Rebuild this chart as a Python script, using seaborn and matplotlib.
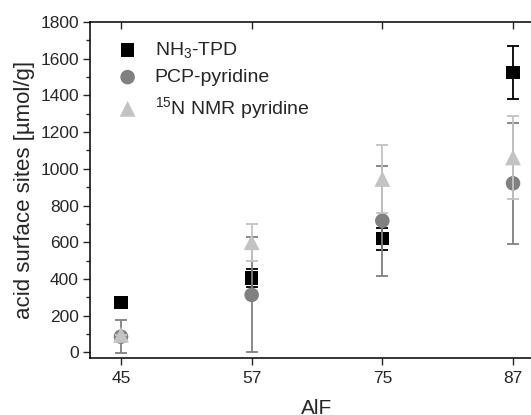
import numpy as np
import pandas as pd
import matplotlib
matplotlib.use("Agg")
import matplotlib.pyplot as plt
from matplotlib.ticker import MultipleLocator
import seaborn as sns

# AlF samples on the x axis (categorical)
alf = ["45", "57", "75", "87"]

# acid surface sites [umol/g] and error bars
nh3_tpd = [271, 405, 620, 1525]
nh3_tpd_err = [0, 48, 60, 146]

pcp_pyridine = [85, 313, 717, 921]
pcp_pyridine_err = [90, 313, 300, 330]

nmr_pyridine = [95, 600, 945, 1062]
nmr_pyridine_err = [0, 100, 185, 225]

labels = ["NH$_3$-TPD", "PCP-pyridine", "$^{15}$N NMR pyridine"]
colors = ["#000000", "#808080", "#c3c3c3"]
markers = ["s", "o", "^"]
sizes = [95, 110, 130]

sns.set_style("ticks")
plt.rcParams["font.family"] = ["Liberation Sans", "DejaVu Sans"]
plt.rcParams["mathtext.default"] = "regular"

fig = plt.figure(figsize=(5.31, 4.15), dpi=100)
ax = fig.add_axes([90 / 531, 1 - 358 / 415, (544 - 90) / 531, (358 - 22) / 415])

series = [nh3_tpd, pcp_pyridine, nmr_pyridine]
errors = [nh3_tpd_err, pcp_pyridine_err, nmr_pyridine_err]

for i, (vals, errs) in enumerate(zip(series, errors)):
    df = pd.DataFrame({"AlF": alf, "sites": vals})
    ax.errorbar(df["AlF"], df["sites"], yerr=errs, fmt="none", ecolor=colors[i],
                elinewidth=1.3, capsize=4.5, capthick=1.3, zorder=2 + 2 * i)
    sns.scatterplot(data=df, x="AlF", y="sites", marker=markers[i], color=colors[i],
                    s=sizes[i], edgecolor="none", label=labels[i], ax=ax, zorder=3 + 2 * i)

ax.set_xlim(-0.237, 3.237)
ax.set_ylim(-31, 1800)
ax.yaxis.set_major_locator(MultipleLocator(200))
ax.yaxis.set_minor_locator(MultipleLocator(100))

for side in ["left", "bottom", "top", "right"]:
    ax.spines[side].set_visible(True)
    ax.spines[side].set_color("black")
    ax.spines[side].set_linewidth(1.1)

ax.tick_params(axis="y", which="major", direction="out", length=5, width=1, labelsize=12.5, pad=3)
ax.tick_params(axis="y", which="minor", direction="out", length=3, width=1)
ax.tick_params(axis="x", which="major", length=5, width=1, labelsize=12.5, pad=4,
               bottom=True, top=True, labeltop=False)
# top ticks point inward, bottom ones outward
for t in ax.xaxis.get_major_ticks():
    t.tick2line.set_marker(3)
    t.tick1line.set_marker(3)

ax.set_xlabel("AlF", fontsize=15, labelpad=10)
ax.set_ylabel("acid surface sites [µmol/g]", fontsize=16, labelpad=4)

ax.legend(loc="upper left", bbox_to_anchor=(0.04, 0.97), frameon=False, fontsize=14,
          handlelength=1.2, handletextpad=0.8, labelspacing=0.45, borderaxespad=0)

fig.savefig("out.png", dpi=100)
